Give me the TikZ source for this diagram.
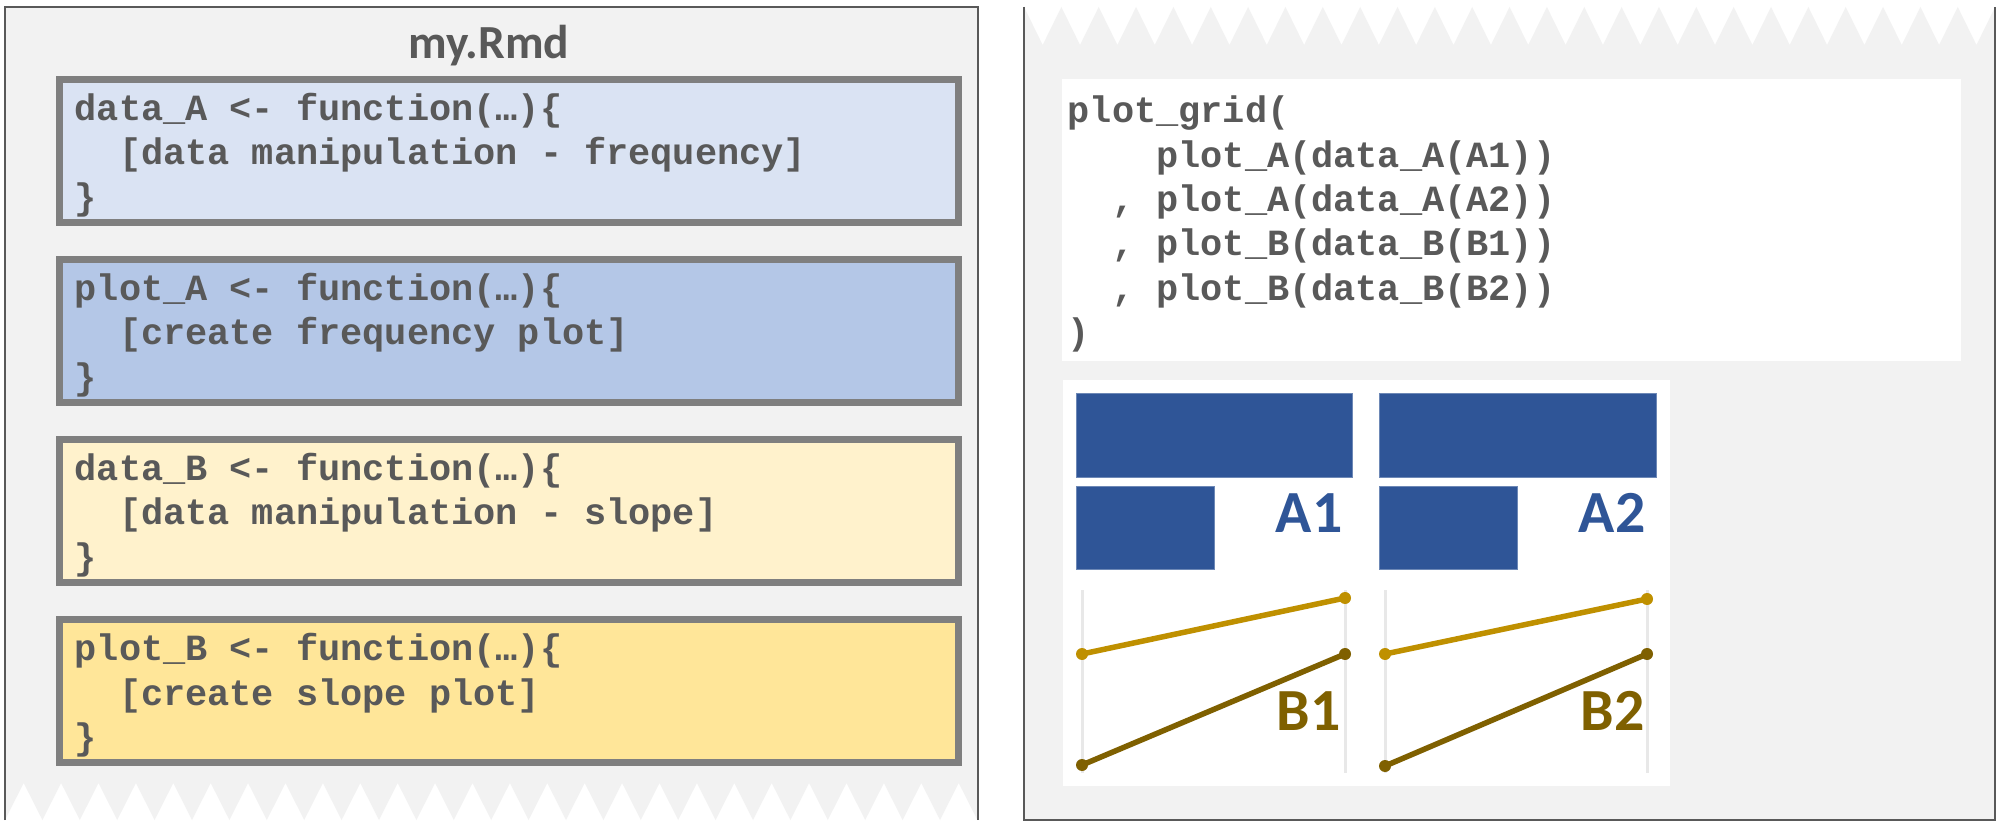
\documentclass[tikz,border=0pt]{standalone}
\usepackage{fontspec}
\setmainfont{Carlito}
\setsansfont{Carlito}
\setmonofont{Liberation Mono}
\usepackage{tikz}
\usetikzlibrary{positioning}

\definecolor{panelgray}{HTML}{F2F2F2}
\definecolor{edgegray}{HTML}{595959}
\definecolor{boxedge}{HTML}{7F7F7F}
\definecolor{textgray}{HTML}{595959}
\definecolor{blueA}{HTML}{DAE3F3}
\definecolor{blueB}{HTML}{B4C7E7}
\definecolor{yellowA}{HTML}{FFF2CC}
\definecolor{yellowB}{HTML}{FFE699}
\definecolor{barblue}{HTML}{2F5597}
\definecolor{gold}{HTML}{BF9000}
\definecolor{darkgold}{HTML}{7F6000}
\definecolor{axisgray}{HTML}{E8E8E8}

\tikzset{node distance=0.3cm,
  panelline/.style={draw=edgegray, line width=0.025cm},
  code/.style={align=left, text=textgray, inner ysep=0pt,
    font=\fontsize{10.5}{12.65}\selectfont\ttfamily\bfseries,
    execute at begin node={\spaceskip=0pt\xspaceskip=0pt\rule{0pt}{10pt}}},
  codebox/.style={code, draw=boxedge, line width=0.07cm, minimum width=8.99cm,
    minimum height=1.43cm, text width=8.68cm, inner xsep=0.155cm},
  gridbox/.style={code, fill=white, minimum width=8.99cm, minimum height=2.82cm,
    text width=8.87cm, inner xsep=0.06cm},
  bar/.style={fill=barblue, draw=barblue!70!white, line width=0.2pt,
    anchor=north west, inner sep=0pt},
  lab/.style={font=\fontsize{17}{17}\selectfont\sffamily\bfseries, anchor=base east, inner sep=0pt},
  axisline/.style={draw=axisgray, line width=0.03cm},
  slope/.style={line width=0.055cm, line cap=round}
}

\begin{document}
\begin{tikzpicture}[x=0.01cm, y=-0.01cm]

  \fill[white] (0,0) rectangle (2001,825);
  \useasboundingbox (0,0) rectangle (2001,825);

  % left panel, torn at the bottom
  \fill[panelgray] (978,820) -- (978,7) -- (5,7) -- (5,820)
    \foreach \k in {0,...,25} { -- ({5+37.4*\k+18.7},783) -- ({5+37.4*(\k+1)},820) } -- cycle;
  \draw[panelline] (5,820) -- (5,7) -- (978,7) -- (978,820);

  % right panel, torn at the top
  \fill[panelgray] (1024,820) -- (1024,7)
    \foreach \k in {0,...,25} { -- ({1024+37.35*\k+18.675},45) -- ({1024+37.35*(\k+1)},7) } -- (1995,820) -- cycle;
  \draw[panelline] (1024,7) -- (1024,820) -- (1995,820) -- (1995,7);

  \node (rmd) [anchor=base, text=textgray, font=\fontsize{13.5}{13.5}\selectfont\sffamily\bfseries] at (489,59) {my.Rmd};

  \node (dataA) [codebox, fill=blueA] at (509,151)
    {data\_A <- function(…)\{\\\phantom{xx}[data manipulation - frequency]\\\}};
  \node (plotA) [codebox, fill=blueB, below=of dataA]
    {plot\_A <- function(…)\{\\\phantom{xx}[create frequency plot]\\\}};
  \node (dataB) [codebox, fill=yellowA, below=of plotA]
    {data\_B <- function(…)\{\\\phantom{xx}[data manipulation - slope]\\\}};
  \node (plotB) [codebox, fill=yellowB, below=of dataB]
    {plot\_B <- function(…)\{\\\phantom{xx}[create slope plot]\\\}};

  \node (grid) [gridbox] at (1511.5,220)
    {plot\_grid(\\
     \phantom{xxxx}plot\_A(data\_A(A1))\\
     \phantom{xx}, plot\_A(data\_A(A2))\\
     \phantom{xx}, plot\_B(data\_B(B1))\\
     \phantom{xx}, plot\_B(data\_B(B2))\\
     )};

  \node (plots) [fill=white, anchor=north west, minimum width=6.07cm, minimum height=4.06cm, inner sep=0pt] at (1062,379) {};

  % frequency plots
  \node (a1top) [bar, minimum width=2.76cm, minimum height=0.84cm] at (1076,393) {};
  \node (a1bot) [bar, minimum width=1.38cm, minimum height=0.83cm] at (1076,486) {};
  \node (a2top) [bar, minimum width=2.77cm, minimum height=0.84cm] at (1379,393) {};
  \node (a2bot) [bar, minimum width=1.38cm, minimum height=0.83cm] at (1379,486) {};
  \node (labA1) [lab, text=barblue] at (1343,532) {A1};
  \node (labA2) [lab, text=barblue] at (1646,532) {A2};

  % slope plots
  \coordinate (b1l) at (1082,590);
  \coordinate (b1r) at (1345,590);
  \coordinate (b2l) at (1385,590);
  \coordinate (b2r) at (1647,590);
  \draw[axisline] (b1l) -- ++(0,183);
  \draw[axisline] (b1r) -- ++(0,183);
  \draw[axisline] (b2l) -- ++(0,183);
  \draw[axisline] (b2r) -- ++(0,183);

  \coordinate (g1s) at (1082,654);
  \coordinate (g1e) at (1345,598);
  \coordinate (d1s) at (1082,765);
  \coordinate (d1e) at (1345,654);
  \coordinate (g2s) at (1385,654);
  \coordinate (g2e) at (1647,599);
  \coordinate (d2s) at (1385,766);
  \coordinate (d2e) at (1647,654);

  \draw[slope, gold] (g1s) -- (g1e);
  \draw[slope, darkgold] (d1s) -- (d1e);
  \draw[slope, gold] (g2s) -- (g2e);
  \draw[slope, darkgold] (d2s) -- (d2e);
  \fill[gold] (g1s) circle (6) (g1e) circle (6) (g2s) circle (6) (g2e) circle (6);
  \fill[darkgold] (d1s) circle (6) (d1e) circle (6) (d2s) circle (6) (d2e) circle (6);

  \node (labB1) [lab, text=darkgold] at (1341,730) {B1};
  \node (labB2) [lab, text=darkgold] at (1645,730) {B2};

\end{tikzpicture}
\end{document}
